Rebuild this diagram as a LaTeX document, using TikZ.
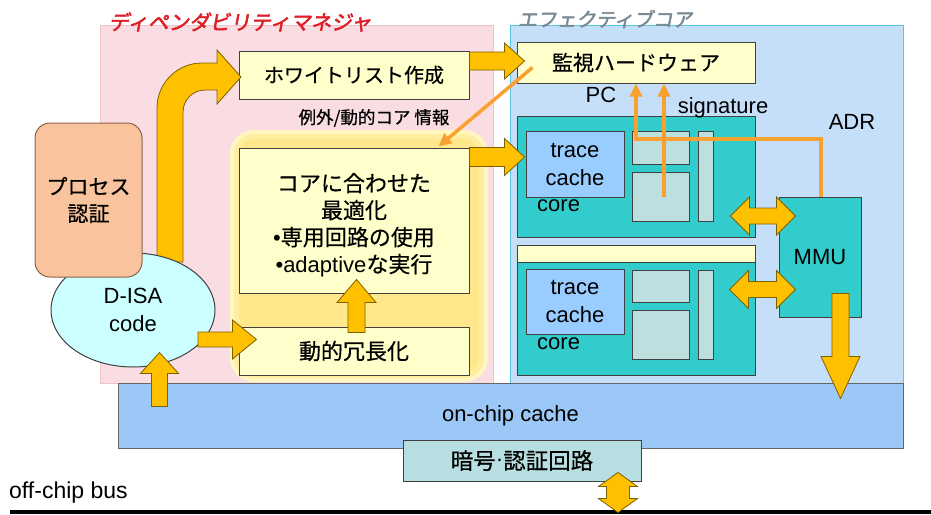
\documentclass[tikz,border=0pt]{standalone}
\usepackage{fontspec}
\setmainfont{Liberation Sans}
\newfontfamily\lat{Liberation Sans}
\newfontfamily\jp[FakeBold=0.5]{Noto Sans CJK JP}
\newfontfamily\jpsl[FakeSlant=0.18,FakeBold=2.4]{Noto Sans CJK JP}
\usetikzlibrary{calc,arrows.meta,shapes.geometric}

\definecolor{pinkbg}{HTML}{FADDE2}
\definecolor{pinkedge}{HTML}{F0C2CB}
\definecolor{bluebg}{HTML}{C5DFF8}
\definecolor{blueedge}{HTML}{5CC6E0}
\definecolor{lightyel}{HTML}{FFFFCC}
\definecolor{boxline}{HTML}{404040}
\definecolor{coreteal}{HTML}{33CCCC}
\definecolor{tcblue}{HTML}{99CCFF}
\definecolor{sbgray}{HTML}{BEDFE0}
\definecolor{cachebl}{HTML}{9BC8F6}
\definecolor{cryptbg}{HTML}{B7DEE0}
\definecolor{procbg}{HTML}{F8C39D}
\definecolor{procedge}{HTML}{8C6448}
\definecolor{disabg}{HTML}{CCFFFF}
\definecolor{arrowyel}{HTML}{FFC000}
\definecolor{arrowedge}{HTML}{7F6000}
\definecolor{orangeln}{HTML}{F8A030}
\definecolor{titlered}{HTML}{E01E26}
\definecolor{titlegray}{HTML}{7A8A94}
\definecolor{glowout}{HTML}{FFF6C0}
\definecolor{glowmid}{HTML}{FFEEA0}
\definecolor{glowin}{HTML}{FFE88C}

\tikzset{
  boxbase/.style={inner sep=0pt, line width=1pt, draw=boxline},
  ybox/.style={boxbase, fill=lightyel},
  tealbox/.style={boxbase, fill=coreteal},
  tcbox/.style={boxbase, fill=tcblue},
  sbox/.style={boxbase, fill=sbgray},
  barrow/.style={fill=arrowyel, draw=arrowedge, line width=0.8pt, line join=miter},
  oline/.style={draw=orangeln, line width=3.5pt},
  otip/.style={-{Triangle[length=13pt,width=12pt]}},
  jpA/.style={font=\jp\fontsize{20}{24}\selectfont},
  jpB/.style={font=\jp\fontsize{21}{27}\selectfont},
  jpC/.style={font=\jp\fontsize{22}{27}\selectfont},
  latA/.style={font=\lat\fontsize{22}{28}\selectfont},
  plain/.style={inner sep=0pt}
}

% block arrows between two coordinates: #3 shaft half width, #4 head half width, #5 head length
\newcommand\arrR[5]{\filldraw[barrow] let \p1=(#1),\p2=(#2) in
  (\x1,\y1+#3) -- (\x2-#5,\y1+#3) -- (\x2-#5,\y1+#4) -- (\x2,\y1) -- (\x2-#5,\y1-#4) -- (\x2-#5,\y1-#3) -- (\x1,\y1-#3) -- cycle;}
\newcommand\arrU[5]{\filldraw[barrow] let \p1=(#1),\p2=(#2) in
  (\x1-#3,\y1) -- (\x1-#3,\y2-#5) -- (\x1-#4,\y2-#5) -- (\x1,\y2) -- (\x1+#4,\y2-#5) -- (\x1+#3,\y2-#5) -- (\x1+#3,\y1) -- cycle;}
\newcommand\arrD[5]{\filldraw[barrow] let \p1=(#1),\p2=(#2) in
  (\x1-#3,\y1) -- (\x1-#3,\y2+#5) -- (\x1-#4,\y2+#5) -- (\x1,\y2) -- (\x1+#4,\y2+#5) -- (\x1+#3,\y2+#5) -- (\x1+#3,\y1) -- cycle;}
\newcommand\arrLR[5]{\filldraw[barrow] let \p1=(#1),\p2=(#2) in
  (\x1,\y1) -- (\x1+#5,\y1+#4) -- (\x1+#5,\y1+#3) -- (\x2-#5,\y1+#3) -- (\x2-#5,\y1+#4) -- (\x2,\y1)
  -- (\x2-#5,\y1-#4) -- (\x2-#5,\y1-#3) -- (\x1+#5,\y1-#3) -- (\x1+#5,\y1-#4) -- cycle;}
\newcommand\arrUD[5]{\filldraw[barrow] let \p1=(#1),\p2=(#2) in
  (\x1,\y1) -- (\x1+#4,\y1-#5) -- (\x1+#3,\y1-#5) -- (\x1+#3,\y2+#5) -- (\x1+#4,\y2+#5) -- (\x1,\y2)
  -- (\x1-#4,\y2+#5) -- (\x1-#3,\y2+#5) -- (\x1-#3,\y1-#5) -- (\x1-#4,\y1-#5) -- cycle;}

\begin{document}
\begin{tikzpicture}[x=1pt,y=-1pt]
\useasboundingbox (0,0) rectangle (931,514);
\fill[white] (0,0) rectangle (931,514);

% containers
\node[plain, fill=pinkbg, draw=pinkedge, line width=1pt, minimum width=393pt, minimum height=358pt] (dm) at (296.5,204) {};
\node[plain, fill=bluebg, draw=blueedge, line width=1pt, minimum width=393pt, minimum height=358pt] (ec) at (706.5,204) {};
\node[plain, font=\jpsl\fontsize{20.5}{24}\selectfont, text=titlered] (dmtitle) at (240,22) {ディペンダビリティマネジャ};
\node[plain, font=\jpsl\fontsize{19.5}{24}\selectfont, text=titlegray] (ectitle) at (605,19) {エフェクティブコア};

% glow around optimisation block
\node[plain, fill=glowout, rounded corners=24pt, minimum width=258pt, minimum height=252pt] (glow) at (359,256) {};
\node[plain, fill=glowmid, rounded corners=20pt, minimum width=250pt, minimum height=244pt] (glow2) at (359,256) {};
\node[plain, fill=glowin, rounded corners=16pt, minimum width=240pt, minimum height=234pt] (glow3) at (359,256) {};

% dependability manager boxes
\node[ybox, jpA, minimum width=230pt, minimum height=48pt] (wl) at (354,75) {ホワイトリスト作成};
\node[plain, font=\jp\fontsize{17.5}{20}\selectfont] (info) at (374,118) {例外/動的コア 情報};
\node[ybox, minimum width=230pt, minimum height=145pt] (opt) at (354,220.5) {};
\node[plain, jpC, align=center] (opttext) at (354,225) {コアに合わせた\\最適化\\{\lat •}専用回路の使用\\{\lat •adaptive}な実行};
\node[ybox, jpC, minimum width=230pt, minimum height=48pt] (dr) at (354,351) {動的冗長化};

% effective core
\node[ybox, jpB, minimum width=238pt, minimum height=41pt] (mon) at (636,62.5) {監視ハードウェア};
\node[tealbox, minimum width=238pt, minimum height=121pt] (core1) at (636,176.5) {};
\node[tcbox, latA, align=center, minimum width=98pt, minimum height=66pt] (tc1) at (575,164) {trace\\cache};
\node[sbox, minimum width=57pt, minimum height=33pt] (sb1a) at (660.5,147.5) {};
\node[sbox, minimum width=57pt, minimum height=49pt] (sb1b) at (660.5,196.5) {};
\node[sbox, minimum width=15pt, minimum height=90pt] (nb1) at (705.5,176) {};
\node[plain, latA, anchor=west] (core1lbl) at (537,206) {core};

\node[ybox, minimum width=238pt, minimum height=17pt] (ystrip) at (636,253.5) {};
\node[tealbox, minimum width=238pt, minimum height=113pt] (core2) at (636,318.5) {};
\node[tcbox, latA, align=center, minimum width=98pt, minimum height=65pt] (tc2) at (575,301.5) {trace\\cache};
\node[sbox, minimum width=57pt, minimum height=32pt] (sb2a) at (660.5,286) {};
\node[sbox, minimum width=57pt, minimum height=49pt] (sb2b) at (660.5,334.5) {};
\node[sbox, minimum width=15pt, minimum height=89pt] (nb2) at (705.5,314.5) {};
\node[plain, latA, anchor=west] (core2lbl) at (537,344) {core};

\node[tealbox, latA, minimum width=82pt, minimum height=120pt] (mmu) at (820,257) {MMU};
\node[plain, latA] (pc) at (601,95) {PC};
\node[plain, latA] (sig) at (723,108) {signature};
\node[plain, latA] (adr) at (852,122) {ADR};

% cache, crypto, bus
\node[boxbase, fill=cachebl, draw=boxline!80, latA, minimum width=785pt, minimum height=65pt] (cache) at (510.5,415.5) {on-chip cache};
\node[boxbase, fill=cryptbg, font=\jp\fontsize{22.5}{27}\selectfont, minimum width=238pt, minimum height=41pt] (crypt) at (522,460.5) {暗号{\lat\raisebox{2.5pt}{·}}認証回路};
\node[plain, font=\lat\fontsize{23}{28}\selectfont, anchor=west] (buslbl) at (9,493) {off-chip bus};
\coordinate (busL) at (10,512);
\coordinate (busR) at (931,512);
\draw[line width=4pt] (busL) -- (busR);

% bent arrow from D-ISA code to whitelist
\filldraw[barrow] (157,262) -- (157,108) .. controls (157,83.1) and (177.1,63) .. (202,63)
  -- (217,63) -- (217,50) -- (241,77) -- (217,104) -- (217,90) -- (205,90)
  .. controls (192.9,90) and (183,99.9) .. (183,112) -- (183,262) -- cycle;

% D-ISA code and process authentication
\node[ellipse, draw=boxline, line width=1pt, fill=disabg, minimum width=164pt, minimum height=114pt, inner sep=0pt,
      latA, align=center] (disa) at (133,310) {D-ISA\\code};
\node[boxbase, draw=procedge, fill=procbg, rounded corners=15pt, jpB, align=center,
      minimum width=107pt, minimum height=154pt] (proc) at (88.5,200) {プロセス\\認証};

% block arrows
\arrR{$(wl.east)+(0,-14)$}{$(mon.west)+(8,-1.5)$}{9pt}{18pt}{20pt}
\arrR{$(opt.north east)+(0,9.5)$}{$(core1.west)+(8,-19)$}{9.5pt}{18.5pt}{20pt}
\arrR{$(disa.center)+(65,29.5)$}{$(dr.west)+(18,-11.5)$}{7.5pt}{19.5pt}{24pt}
\arrU{$(dr.north)+(2.5,6)$}{$(opt.south)+(2.5,-14)$}{8.5pt}{19.5pt}{23pt}
\arrU{$(cache.north west)+(42,24)$}{$(disa.south)+(27,-15)$}{8pt}{19pt}{21pt}
\arrD{$(mmu.south)+(20.5,-24)$}{$(cache.north)+(330,16)$}{8.5pt}{19.5pt}{42pt}
\arrLR{$(core1.east)+(-25,39.5)$}{$(mmu.west)+(17,-41)$}{8pt}{19pt}{19pt}
\arrLR{$(core2.east)+(-26,-29)$}{$(mmu.west)+(17,32.5)$}{8pt}{19pt}{19pt}
\arrUD{$(crypt.south)+(96,-9)$}{$(crypt.south)+(96,31)$}{11.5pt}{19.5pt}{14pt}

% orange signal lines
\coordinate (pcturn) at (636,139);
\draw[oline, otip] ($(mon.south west)+(16,-16)$) -- ($(opt.north east)+(-31,-1)$);
\draw[oline, otip] ($(mmu.north)+(1,0)$) |- (pcturn) -- (pcturn |- mon.south);
\draw[oline, otip] ($(sb1b.center)+(3.5,0)$) -- ($(mon.south)+(28,0)$);
\end{tikzpicture}
\end{document}
